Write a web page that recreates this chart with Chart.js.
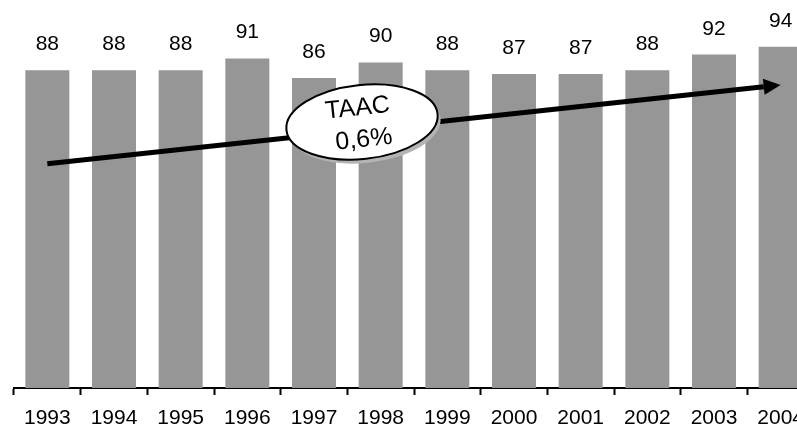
<!DOCTYPE html>
<html lang="fr">
<head>
    <meta charset="UTF-8">
    <title>TAAC 1993-2004</title>
    <script src="https://cdn.jsdelivr.net/npm/chart.js"></script>
    <style>
        body { margin: 0; overflow: hidden; background: #fff; }
        canvas { display: block; }
    </style>
</head>
<body>

    <!-- canvas is a bit larger than the window, the right/bottom edges get cut like in the original -->
    <canvas id="taacChart" width="820" height="442"></canvas>

    <script>
        const years = ["1993", "1994", "1995", "1996", "1997", "1998", "1999", "2000", "2001", "2002", "2003", "2004"];
        const values = [88, 88, 88, 91, 86, 90, 88, 87, 87, 88, 92, 94];

        // trend arrow, start/end in axis values
        const trendStart = 64;
        const trendEnd = 84.2;
        const taacLabel = ["TAAC", "0,6%"];

        const FONT = "'Liberation Sans', Arial, sans-serif";

        // value labels above each bar
        const valueLabels = {
            id: "valueLabels",
            afterDraw(chart) {
                const ctx = chart.ctx;
                const meta = chart.getDatasetMeta(0);
                ctx.save();
                ctx.font = "21px " + FONT;
                ctx.fillStyle = "#000";
                ctx.textAlign = "center";
                ctx.textBaseline = "alphabetic";
                meta.data.forEach(function (bar, i) {
                    ctx.fillText(values[i], bar.x, bar.y - 20);
                });
                ctx.restore();
            }
        };

        // arrow + ellipse
        const trendArrow = {
            id: "trendArrow",
            afterDatasetsDraw(chart) {
                const ctx = chart.ctx;
                const x = chart.scales.x, y = chart.scales.y;
                const x1 = x.getPixelForValue(0), y1 = y.getPixelForValue(trendStart);
                const x2 = x.getPixelForValue(years.length - 1), y2 = y.getPixelForValue(trendEnd);
                const ang = Math.atan2(y2 - y1, x2 - x1);
                const head = 17, half = 8;
                const bx = x2 - head * Math.cos(ang), by = y2 - head * Math.sin(ang);

                ctx.save();
                ctx.strokeStyle = "#000";
                ctx.fillStyle = "#000";
                ctx.lineWidth = 5;
                ctx.beginPath();
                ctx.moveTo(x1, y1);
                ctx.lineTo(bx, by);
                ctx.stroke();
                ctx.beginPath();
                ctx.moveTo(x2, y2);
                ctx.lineTo(bx + half * Math.sin(ang), by - half * Math.cos(ang));
                ctx.lineTo(bx - half * Math.sin(ang), by + half * Math.cos(ang));
                ctx.closePath();
                ctx.fill();

                // ellipse sits a bit above the arrow, between 1997 and 1998
                const cx = x.getPixelForValue(4.72);
                const cy = y1 + (cx - x1) * Math.tan(ang) - 8;
                ctx.fillStyle = "#b4b4b4";
                ctx.beginPath();
                ctx.ellipse(cx + 3, cy + 4, 76, 37, ang, 0, Math.PI * 2);
                ctx.fill();
                ctx.fillStyle = "#fff";
                ctx.lineWidth = 2;
                ctx.beginPath();
                ctx.ellipse(cx, cy, 76, 37, ang, 0, Math.PI * 2);
                ctx.fill();
                ctx.stroke();

                ctx.translate(cx, cy);
                ctx.rotate(ang);
                ctx.fillStyle = "#000";
                ctx.font = "25px " + FONT;
                ctx.textAlign = "center";
                ctx.textBaseline = "middle";
                ctx.fillText(taacLabel[0], -3, -14);
                ctx.fillText(taacLabel[1], 0, 18);
                ctx.restore();
            }
        };

        new Chart(document.getElementById("taacChart"), {
            type: "bar",
            data: {
                labels: years,
                datasets: [{
                    data: values,
                    backgroundColor: "#969696",
                    barPercentage: 0.66,
                    categoryPercentage: 1
                }]
            },
            options: {
                responsive: false,
                animation: false,
                layout: { padding: { left: 14, right: 6, top: 0, bottom: 0 } },
                plugins: {
                    legend: { display: false },
                    tooltip: { enabled: false }
                },
                scales: {
                    x: {
                        grid: {
                            offset: true,
                            drawOnChartArea: false,
                            drawTicks: true,
                            tickLength: 7,
                            tickWidth: 2,
                            tickColor: "#000"
                        },
                        border: { display: true, color: "#000", width: 2 },
                        ticks: {
                            color: "#000",
                            font: { family: FONT, size: 21, lineHeight: 1 },
                            padding: 13,
                            maxRotation: 0,
                            autoSkip: false
                        }
                    },
                    y: {
                        display: false,
                        min: 6.5,
                        max: 106
                    }
                }
            },
            plugins: [trendArrow, valueLabels]
        });
    </script>

</body>
</html>
